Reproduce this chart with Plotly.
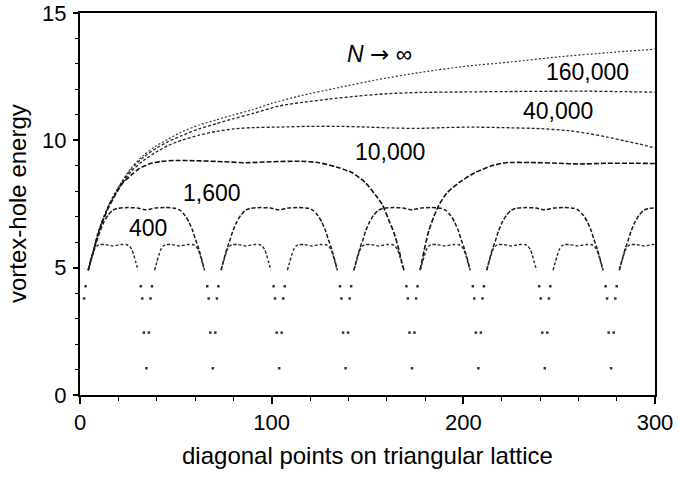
import plotly.graph_objects as go

# ---------------- data ----------------
# N = 400 (gaps at the cusps)
x400 = [4.3, 5.5, 6.5, 7.5, 8.7, 10, 13, 17.3, 21.6, 24.6, 25.9, 27.1, 28.1, 29.1, 30.3, None,
        38.9, 40.1, 41.1, 42.1, 43.3, 44.6, 47.6, 52.0, 56.2, 59.2, 60.5, 61.7, 62.7, 63.7, 64.9, None,
        73.6, 74.8, 75.8, 76.8, 78.0, 79.3, 82.3, 86.6, 90.9, 93.9, 95.2, 96.4, 97.4, 98.4, 99.6, None,
        108.2, 109.4, 110.4, 111.4, 112.6, 113.9, 116.9, 121.2, 125.5, 128.5, 129.8, 131.0, 132.0, 133.0, 134.2, None,
        142.9, 144.1, 145.1, 146.1, 147.3, 148.6, 151.6, 155.9, 160.2, 163.2, 164.5, 165.7, 166.7, 167.7, 168.9, None,
        177.5, 178.7, 179.7, 180.7, 181.9, 183.2, 186.2, 190.5, 194.8, 197.8, 199.1, 200.3, 201.3, 202.3, 203.5, None,
        212.2, 213.4, 214.4, 215.4, 216.6, 217.9, 220.9, 225.2, 229.5, 232.5, 233.8, 235.0, 236.0, 237.0, 238.2, None,
        246.8, 248.0, 249.0, 250.0, 251.2, 252.5, 255.5, 259.8, 264.1, 267.1, 268.4, 269.6, 270.6, 271.6, 272.8, None,
        281.4, 282.6, 283.6, 284.6, 285.8, 287.1, 290.1, 294.5, 298.7, 300]
y400 = [4.9, 5.22, 5.48, 5.7, 5.84, 5.9, 5.91, 5.85, 5.91, 5.9, 5.84, 5.7, 5.48, 5.22, 4.9, None,
        4.9, 5.22, 5.48, 5.7, 5.84, 5.9, 5.91, 5.85, 5.91, 5.9, 5.84, 5.7, 5.48, 5.22, 4.9, None,
        4.9, 5.22, 5.48, 5.7, 5.84, 5.9, 5.91, 5.85, 5.91, 5.9, 5.84, 5.7, 5.48, 5.22, 4.9, None,
        4.9, 5.22, 5.48, 5.7, 5.84, 5.9, 5.91, 5.85, 5.91, 5.9, 5.84, 5.7, 5.48, 5.22, 4.9, None,
        4.9, 5.22, 5.48, 5.7, 5.84, 5.9, 5.91, 5.85, 5.91, 5.9, 5.84, 5.7, 5.48, 5.22, 4.9, None,
        4.9, 5.22, 5.48, 5.7, 5.84, 5.9, 5.91, 5.85, 5.91, 5.9, 5.84, 5.7, 5.48, 5.22, 4.9, None,
        4.9, 5.22, 5.48, 5.7, 5.84, 5.9, 5.91, 5.85, 5.91, 5.9, 5.84, 5.7, 5.48, 5.22, 4.9, None,
        4.9, 5.22, 5.48, 5.7, 5.84, 5.9, 5.91, 5.85, 5.91, 5.9, 5.84, 5.7, 5.48, 5.22, 4.9, None,
        4.9, 5.22, 5.48, 5.7, 5.84, 5.9, 5.91, 5.85, 5.91, 5.9]

# N = 1,600
x1600 = [4.3, 5.5, 6.5, 7.5, 9, 10.5, 12.5, 14.5, 17, 19.5, 25, 30, 34.6, 39.3, 44.3, 49.8, 52.3, 54.8, 56.8, 58.8, 60.3, 61.8, 62.8, 63.8, 65.0, None,
         73.6, 74.8, 75.8, 76.8, 78.3, 79.8, 81.8, 83.8, 86.3, 88.8, 94.3, 99.3, 103.9, 108.6, 113.6, 119.1, 121.6, 124.1, 126.1, 128.1, 129.6, 131.1, 132.1, 133.1, 134.3, None,
         142.9, 144.1, 145.1, 146.1, 147.6, 149.1, 151.1, 153.1, 155.6, 158.1, 163.6, 168.6, 173.2, 177.9, 182.9, 188.4, 190.9, 193.4, 195.4, 197.4, 198.9, 200.4, 201.4, 202.4, 203.6, None,
         212.2, 213.4, 214.4, 215.4, 216.9, 218.4, 220.4, 222.4, 224.9, 227.4, 232.9, 237.9, 242.5, 247.1, 252.1, 257.7, 260.2, 262.7, 264.7, 266.7, 268.2, 269.7, 270.7, 271.7, 272.9, None,
         281.4, 282.6, 283.6, 284.6, 286.1, 287.6, 289.6, 291.6, 294.1, 296.6, 300]
y1600 = [4.9, 5.25, 5.52, 5.78, 6.1, 6.45, 6.8, 7.05, 7.25, 7.33, 7.36, 7.34, 7.27, 7.34, 7.36, 7.33, 7.25, 7.05, 6.8, 6.45, 6.1, 5.78, 5.52, 5.25, 4.9, None,
         4.9, 5.25, 5.52, 5.78, 6.1, 6.45, 6.8, 7.05, 7.25, 7.33, 7.36, 7.34, 7.27, 7.34, 7.36, 7.33, 7.25, 7.05, 6.8, 6.45, 6.1, 5.78, 5.52, 5.25, 4.9, None,
         4.9, 5.25, 5.52, 5.78, 6.1, 6.45, 6.8, 7.05, 7.25, 7.33, 7.36, 7.34, 7.27, 7.34, 7.36, 7.33, 7.25, 7.05, 6.8, 6.45, 6.1, 5.78, 5.52, 5.25, 4.9, None,
         4.9, 5.25, 5.52, 5.78, 6.1, 6.45, 6.8, 7.05, 7.25, 7.33, 7.36, 7.34, 7.27, 7.34, 7.36, 7.33, 7.25, 7.05, 6.8, 6.45, 6.1, 5.78, 5.52, 5.25, 4.9, None,
         4.9, 5.25, 5.52, 5.78, 6.1, 6.45, 6.8, 7.05, 7.25, 7.33, 7.35]

# N = 10,000
x10000 = [4.3, 5.5, 6.5, 7.5, 9, 10.5, 12.5, 15, 18, 22, 27, 31, 36, 42, 50, 60, 75, 86.6, 100, 115, 124.8,
          135.2, 142, 149, 154, 157.7, 161, 163.8, 166.4, 168, 169, None,
          177.4, 178.5, 179.6, 182, 184.6, 187.2, 191.5, 197.6, 206, 214.8, 222, 235, 250, 260, 275, 290, 300]
y10000 = [4.9, 5.25, 5.52, 5.8, 6.2, 6.55, 6.95, 7.38, 7.8, 8.3, 8.65, 8.9, 9.07, 9.17, 9.21, 9.2, 9.16, 9.12, 9.16, 9.18, 9.12,
          8.92, 8.73, 8.33, 7.87, 7.48, 6.89, 6.37, 5.7, 5.19, 4.9, None,
          4.9, 5.3, 5.7, 6.45, 7.0, 7.45, 7.94, 8.33, 8.73, 9.0, 9.12, 9.13, 9.1, 9.07, 9.1, 9.1, 9.09]

# N = 40,000
x40000 = [4.3, 5.5, 6.5, 7.5, 9, 10.5, 12.5, 15, 18, 22, 27, 33, 40, 46, 53, 62, 71, 80, 90, 104, 120, 135,
          150, 165, 177, 190, 203, 220, 240, 255, 265, 275, 284, 292, 300]
y40000 = [4.9, 5.25, 5.52, 5.8, 6.25, 6.6, 7.0, 7.43, 7.85, 8.3, 8.8, 9.2, 9.55, 9.8, 10.0, 10.2, 10.35, 10.45, 10.5, 10.52, 10.55, 10.55,
          10.52, 10.48, 10.47, 10.5, 10.52, 10.5, 10.46, 10.38, 10.27, 10.13, 9.98, 9.85, 9.7]

# N = 160,000
x160000 = [4.3, 5.5, 6.5, 7.5, 9, 10.5, 12.5, 15, 18, 22, 27, 33, 40, 46, 53, 62, 71, 80, 90, 104, 117, 130,
           145, 160, 177, 200, 230, 263, 285, 300]
y160000 = [4.9, 5.25, 5.52, 5.8, 6.25, 6.6, 7.0, 7.45, 7.88, 8.37, 8.9, 9.33, 9.7, 9.95, 10.18, 10.45, 10.65, 10.85, 11.05, 11.35, 11.5, 11.62,
           11.74, 11.83, 11.88, 11.9, 11.92, 11.93, 11.91, 11.89]

# N -> infinity
xinf = [4.3, 5.5, 6.5, 7.5, 9, 10.5, 12.5, 15, 18, 22, 27, 33, 40, 46, 53, 62, 71, 80, 90, 100, 115, 135,
        155, 177, 200, 225, 250, 275, 300]
yinf = [4.9, 5.25, 5.52, 5.8, 6.25, 6.6, 7.0, 7.45, 7.9, 8.4, 8.95, 9.4, 9.8, 10.05, 10.33, 10.6, 10.8, 11.0, 11.2, 11.45, 11.75, 12.07,
        12.38, 12.66, 12.9, 13.08, 13.28, 13.44, 13.58]

# isolated lattice points at the cusps
cusp_x = [2.15, 2.9,
          31.74, 32.49, 33.34, 34.64, 35.94, 36.79, 37.54,
          66.38, 67.13, 67.98, 69.28, 70.58, 71.43, 72.18,
          101.02, 101.77, 102.62, 103.92, 105.22, 106.07, 106.82,
          135.66, 136.41, 137.26, 138.56, 139.86, 140.71, 141.46,
          170.3, 171.05, 171.9, 173.2, 174.5, 175.35, 176.1,
          204.95, 205.7, 206.55, 207.85, 209.15, 210.0, 210.75,
          239.59, 240.34, 241.19, 242.49, 243.79, 244.64, 245.39,
          274.23, 274.98, 275.83, 277.13, 278.43, 279.28, 280.03]
cusp_y = [3.79, 4.27,
          4.27, 3.79, 2.45, 1.05, 2.45, 3.79, 4.27,
          4.27, 3.79, 2.45, 1.05, 2.45, 3.79, 4.27,
          4.27, 3.79, 2.45, 1.05, 2.45, 3.79, 4.27,
          4.27, 3.79, 2.45, 1.05, 2.45, 3.79, 4.27,
          4.27, 3.79, 2.45, 1.05, 2.45, 3.79, 4.27,
          4.27, 3.79, 2.45, 1.05, 2.45, 3.79, 4.27,
          4.27, 3.79, 2.45, 1.05, 2.45, 3.79, 4.27,
          4.27, 3.79, 2.45, 1.05, 2.45, 3.79, 4.27]

labels = ["<i>N</i> <span style=\"font-family:DejaVu Sans\">\u2192</span> \u221e",
          "160,000", "40,000", "10,000", "1,600", "400"]
label_x = [156, 265, 249.5, 161.5, 69, 35.4]
label_y = [13.4, 12.68, 11.14, 9.53, 7.95, 6.54]

x_title = "diagonal points on triangular lattice"
y_title = "vortex-hole energy"

# ---------------- figure ----------------
FONT = "Liberation Sans, Arial, Helvetica, sans-serif"
fig = go.Figure()

curves = [
    (xinf, yinf, "#333", 1.2, "2px,2px"),
    (x160000, y160000, "#222", 1.3, "3px,2px"),
    (x40000, y40000, "#222", 1.3, "3px,2px"),
    (x10000, y10000, "#111", 1.6, "5px,2px"),
    (x1600, y1600, "#1a1a1a", 1.5, "4px,2px"),
    (x400, y400, "#2a2a2a", 1.4, "3px,2px"),
]
for xs, ys, col, w, dash in curves:
    fig.add_trace(go.Scatter(x=xs, y=ys, mode="lines",
                             line=dict(color=col, width=w, dash=dash, shape="spline", smoothing=0.6),
                             connectgaps=False, hoverinfo="skip"))

fig.add_trace(go.Scatter(x=cusp_x, y=cusp_y, mode="markers",
                         marker=dict(symbol="square", size=2.5, color="#333"),
                         hoverinfo="skip"))

for t, xx, yy in zip(labels, label_x, label_y):
    fig.add_annotation(x=xx, y=yy, text=t, showarrow=False,
                       font=dict(family=FONT, size=23, color="black"))

# axis titles
fig.add_annotation(x=0.5, y=0, xref="paper", yref="paper", text=x_title, showarrow=False,
                   yshift=-60, xanchor="center", yanchor="middle",
                   font=dict(family=FONT, size=24, color="black"))
fig.add_annotation(x=0, y=0.5, xref="paper", yref="paper", text=y_title, showarrow=False,
                   xshift=-63, textangle=-90, xanchor="center", yanchor="middle",
                   font=dict(family=FONT, size=24, color="black"))

axis_common = dict(showgrid=False, zeroline=False, showline=True, linecolor="black",
                   linewidth=2, mirror=True, ticks="outside", tickcolor="black",
                   tickwidth=1.5, automargin=False,
                   tickfont=dict(family=FONT, size=22, color="black"))

fig.update_xaxes(range=[0, 300], tick0=0, dtick=100, ticklen=7,
                 minor=dict(dtick=20, ticks="outside", ticklen=4, tickwidth=1.2, tickcolor="black", showgrid=False),
                 ticklabelstandoff=0,
                 **axis_common)
fig.update_yaxes(range=[0, 15], tick0=0, dtick=5, ticklen=5,
                 minor=dict(dtick=1, ticks="outside", ticklen=3, tickwidth=1.2, tickcolor="black", showgrid=False),
                 ticklabelstandoff=2,
                 **axis_common)

fig.update_layout(width=679, height=478, showlegend=False,
                  margin=dict(l=80, r=24, t=13, b=83),
                  paper_bgcolor="white", plot_bgcolor="white",
                  font=dict(family=FONT, color="black"))

fig.write_html("out.html", config={"displayModeBar": False},
               post_script="document.body.style.margin='0';")
